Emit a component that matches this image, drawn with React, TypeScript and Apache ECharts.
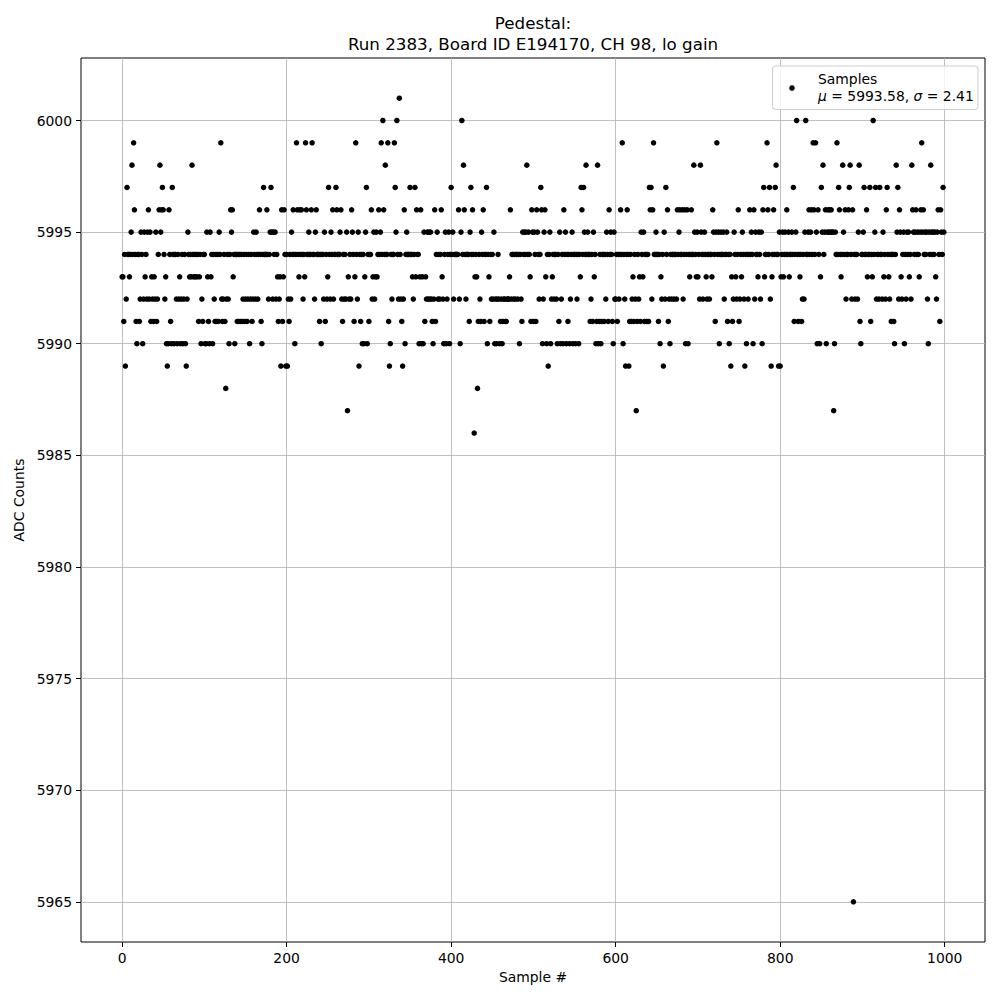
import React, { useEffect, useRef } from "react";
import * as echarts from "echarts";

// ADC samples, 100 per segment
const seg0 = [
  5993, 5993, 5991, 5994, 5989, 5992, 5997, 5994, 5994, 5993,
  5994, 5995, 5998, 5994, 5999, 5996, 5994, 5991, 5990, 5994,
  5994, 5991, 5992, 5995, 5994, 5990, 5992, 5995, 5993, 5994,
  5992, 5995, 5996, 5992, 5995, 5991, 5993, 5992, 5991, 5993,
  5992, 5995, 5991, 5992, 5994, 5996, 5998, 5995, 5996, 5997,
  5996, 5994, 5992, 5993, 5990, 5989, 5990, 5996, 5994, 5991,
  5990, 5997, 5994, 5990, 5994, 5994, 5992, 5990, 5994, 5992,
  5993, 5990, 5992, 5994, 5990, 5992, 5994, 5990, 5989, 5992,
  5995, 5994, 5993, 5994, 5993, 5998, 5994, 5993, 5994, 5993,
  5994, 5993, 5994, 5991, 5993, 5994, 5990, 5992, 5991, 5994,
];
const seg1 = [
  5994, 5990, 5990, 5995, 5993, 5991, 5990, 5995, 5993, 5994,
  5990, 5994, 5992, 5991, 5994, 5991, 5994, 5991, 5995, 5994,
  5999, 5992, 5991, 5992, 5994, 5991, 5988, 5992, 5994, 5992,
  5990, 5994, 5996, 5995, 5996, 5993, 5994, 5990, 5994, 5994,
  5991, 5994, 5991, 5994, 5991, 5994, 5991, 5992, 5994, 5991,
  5992, 5994, 5991, 5992, 5994, 5990, 5992, 5994, 5991, 5992,
  5995, 5994, 5992, 5995, 5994, 5992, 5994, 5996, 5994, 5991,
  5990, 5994, 5997, 5994, 5994, 5994, 5996, 5994, 5992, 5994,
  5995, 5997, 5995, 5992, 5995, 5994, 5995, 5992, 5994, 5993,
  5991, 5992, 5993, 5989, 5996, 5991, 5993, 5996, 5994, 5989,
];
const seg2 = [
  5994, 5989, 5992, 5991, 5994, 5992, 5995, 5994, 5996, 5994,
  5990, 5994, 5999, 5996, 5994, 5993, 5996, 5994, 5996, 5994,
  5992, 5994, 5993, 5999, 5996, 5994, 5994, 5995, 5994, 5994,
  5996, 5999, 5994, 5994, 5992, 5995, 5996, 5994, 5994, 5994,
  5991, 5994, 5990, 5994, 5994, 5992, 5995, 5991, 5994, 5992,
  5993, 5997, 5994, 5992, 5995, 5994, 5996, 5992, 5994, 5994,
  5997, 5996, 5994, 5994, 5994, 5995, 5996, 5992, 5991, 5994,
  5992, 5994, 5992, 5995, 5987, 5993, 5992, 5994, 5992, 5996,
  5995, 5994, 5991, 5993, 5999, 5994, 5992, 5995, 5989, 5994,
  5991, 5994, 5990, 5994, 5990, 5993, 5995, 5997, 5990, 5994,
];
const seg3 = [
  5991, 5994, 5994, 5996, 5992, 5993, 5995, 5992, 5993, 5995,
  5993, 5994, 5996, 5994, 5995, 5999, 5994, 6000, 5996, 5994,
  5998, 5994, 5994, 5999, 5991, 5989, 5990, 5994, 5992, 5994,
  5994, 5999, 5997, 5995, 6000, 5994, 5992, 6001, 5994, 5992,
  5991, 5989, 5992, 5996, 5990, 5994, 5995, 5994, 5994, 5994,
  5997, 5994, 5994, 5993, 5992, 5994, 5997, 5993, 5996, 5994,
  5994, 5990, 5993, 5996, 5990, 5993, 5990, 5995, 5991, 5993,
  5992, 5995, 5992, 5995, 5992, 5995, 5992, 5991, 5990, 5992,
  5996, 5991, 5994, 5995, 5992, 5994, 5992, 5994, 5996, 5993,
  5992, 5990, 5994, 5995, 5990, 5992, 5994, 5995, 5990, 5994,
];
const seg4 = [
  5997, 5994, 5995, 5992, 5994, 5994, 5994, 5994, 5994, 5996,
  5992, 5990, 5995, 6000, 5994, 5998, 5996, 5994, 5992, 5994,
  5994, 5994, 5991, 5995, 5997, 5994, 5996, 5994, 5986, 5993,
  5994, 5993, 5988, 5991, 5994, 5992, 5991, 5995, 5994, 5996,
  5991, 5994, 5994, 5997, 5990, 5994, 5993, 5991, 5994, 5992,
  5994, 5992, 5995, 5990, 5992, 5990, 5992, 5994, 5992, 5990,
  5991, 5992, 5990, 5991, 5992, 5992, 5991, 5991, 5992, 5992,
  5992, 5993, 5996, 5992, 5994, 5994, 5992, 5994, 5992, 5994,
  5994, 5992, 5994, 5990, 5994, 5992, 5991, 5995, 5994, 5995,
  5994, 5995, 5998, 5994, 5995, 5994, 5993, 5991, 5996, 5995,
];
const seg5 = [
  5991, 5995, 5994, 5991, 5996, 5995, 5994, 5992, 5994, 5997,
  5996, 5990, 5992, 5995, 5996, 5993, 5990, 5994, 5989, 5994,
  5995, 5990, 5992, 5993, 5994, 5992, 5994, 5994, 5992, 5990,
  5994, 5991, 5995, 5990, 5992, 5994, 5990, 5996, 5994, 5995,
  5990, 5994, 5991, 5994, 5990, 5992, 5994, 5995, 5990, 5994,
  5994, 5990, 5994, 5992, 5994, 5990, 5994, 5993, 5997, 5996,
  5994, 5997, 5995, 5994, 5998, 5994, 5995, 5994, 5994, 5991,
  5992, 5994, 5991, 5995, 5993, 5994, 5990, 5991, 5998, 5990,
  5991, 5994, 5990, 5991, 5994, 5994, 5991, 5994, 5992, 5995,
  5994, 5991, 5996, 5994, 5995, 5994, 5991, 5990, 5995, 5992,
];
const seg6 = [
  5992, 5994, 5991, 5994, 5992, 5994, 5996, 5994, 5999, 5990,
  5994, 5992, 5989, 5994, 5996, 5994, 5989, 5991, 5994, 5991,
  5992, 5993, 5991, 5994, 5992, 5987, 5991, 5994, 5992, 5993,
  5991, 5995, 5994, 5993, 5995, 5991, 5994, 5994, 5991, 5994,
  5991, 5997, 5996, 5997, 5992, 5996, 5999, 5994, 5994, 5995,
  5994, 5994, 5991, 5994, 5990, 5993, 5992, 5994, 5989, 5995,
  5992, 5997, 5994, 5996, 5991, 5992, 5990, 5994, 5992, 5994,
  5994, 5992, 5994, 5994, 5992, 5996, 5994, 5995, 5996, 5994,
  5994, 5996, 5992, 5994, 5996, 5990, 5994, 5996, 5990, 5994,
  5993, 5994, 5996, 5994, 5994, 5998, 5995, 5994, 5993, 5995,
];
const seg7 = [
  5993, 5994, 5992, 5998, 5995, 5994, 5992, 5994, 5995, 5994,
  5993, 5992, 5994, 5994, 5992, 5994, 5994, 5993, 5996, 5995,
  5994, 5991, 5995, 5999, 5994, 5995, 5990, 5994, 5995, 5994,
  5994, 5995, 5992, 5994, 5994, 5995, 5991, 5994, 5990, 5994,
  5989, 5993, 5991, 5992, 5995, 5994, 5993, 5992, 5994, 5996,
  5991, 5992, 5994, 5993, 5995, 5994, 5992, 5989, 5994, 5990,
  5994, 5992, 5994, 5996, 5994, 5995, 5994, 5990, 5996, 5992,
  5995, 5994, 5994, 5993, 5995, 5994, 5992, 5995, 5990, 5996,
  5997, 5993, 5994, 5994, 5999, 5996, 5994, 5997, 5992, 5989,
  5993, 5994, 5996, 5994, 5997, 5998, 5994, 5994, 5989, 5995,
];
const seg8 = [
  5989, 5993, 5994, 5995, 5993, 5994, 5995, 5994, 5996, 5994,
  5995, 5993, 5994, 5994, 5995, 5994, 5997, 5991, 5994, 5995,
  6000, 5994, 5991, 5994, 5993, 5994, 5991, 5992, 5994, 5992,
  5995, 6000, 5994, 5994, 5995, 5996, 5994, 5995, 5996, 5994,
  5999, 5996, 5994, 5999, 5995, 5990, 5996, 5994, 5990, 5993,
  5997, 5995, 5998, 5994, 5995, 5996, 5990, 5995, 5996, 5995,
  5996, 5995, 5996, 5995, 5995, 5987, 5990, 5995, 5994, 5999,
  5994, 5997, 5996, 5994, 5993, 5994, 5998, 5995, 5994, 5996,
  5992, 5994, 5994, 5996, 5997, 5998, 5994, 5992, 5996, 5965,
  5994, 5992, 5994, 5994, 5992, 5995, 5998, 5991, 5990, 5994,
];
const seg9 = [
  5994, 5995, 5997, 5994, 5994, 5996, 5993, 5994, 5994, 5997,
  5991, 5994, 5993, 6000, 5994, 5995, 5997, 5992, 5994, 5994,
  5992, 5997, 5994, 5994, 5992, 5995, 5993, 5994, 5992, 5996,
  5997, 5994, 5993, 5992, 5994, 5991, 5994, 5994, 5991, 5990,
  5994, 5998, 5995, 5997, 5992, 5996, 5995, 5993, 5992, 5994,
  5995, 5990, 5994, 5992, 5995, 5994, 5995, 5993, 5994, 5992,
  5998, 5996, 5995, 5994, 5995, 5996, 5994, 5995, 5994, 5993,
  5995, 5996, 5999, 5995, 5996, 5994, 5995, 5994, 5995, 5992,
  5990, 5995, 5994, 5998, 5995, 5994, 5995, 5994, 5995, 5993,
  5992, 5995, 5996, 5994, 5991, 5996, 5995, 5994, 5997, 5995,
];

const adcValues = [
  ...seg0, ...seg1, ...seg2, ...seg3, ...seg4,
  ...seg5, ...seg6, ...seg7, ...seg8, ...seg9,
];

const xTicks = [0, 200, 400, 600, 800, 1000];
const yTicks = [5965, 5970, 5975, 5980, 5985, 5990, 5995, 6000];
const titleLine1 = "Pedestal:";
const titleLine2 = "Run 2383, Board ID E194170, CH 98, lo gain";
const xName = "Sample #";
const yName = "ADC Counts";
const seriesName = "Samples";
const muText = "5993.58";
const sigmaText = "2.41";

const FONT = "'DejaVu Sans', sans-serif";

export default function App() {
  const ref = useRef<HTMLDivElement>(null);

  useEffect(() => {
    if (!ref.current) return;
    const chart = echarts.init(ref.current, null, { renderer: "svg" });
    const data = adcValues.map((v, i) => [i, v]);
    const labelStyle = { fontFamily: FONT, fontSize: 13.9, color: "#000" };
    const plain = (v: number) => String(v);

    chart.setOption({
      animation: false,
      grid: {
        left: 81,
        right: 15,
        top: 58,
        bottom: 58,
        show: true,
        borderColor: "#000",
        borderWidth: 1,
        backgroundColor: "transparent",
      },
      xAxis: {
        type: "value",
        min: -49.95,
        max: 1048.95,
        name: xName,
        nameLocation: "middle",
        nameGap: 28,
        nameTextStyle: labelStyle,
        axisLine: { show: false, onZero: false },
        axisTick: {
          show: true,
          inside: false,
          length: 5,
          customValues: xTicks,
          lineStyle: { color: "#000", width: 1 },
        },
        axisLabel: { ...labelStyle, margin: 9, customValues: xTicks, formatter: plain },
        splitLine: { show: false },
      },
      yAxis: {
        type: "value",
        min: 5963.2,
        max: 6002.8,
        name: yName,
        nameLocation: "middle",
        nameGap: 54,
        nameRotate: 90,
        nameTextStyle: labelStyle,
        axisLine: { show: false, onZero: false },
        axisTick: {
          show: true,
          inside: false,
          length: 5,
          customValues: yTicks,
          lineStyle: { color: "#000", width: 1 },
        },
        axisLabel: { ...labelStyle, margin: 9, customValues: yTicks, formatter: plain },
        splitLine: { show: false },
      },
      series: [
        {
          name: seriesName,
          type: "scatter",
          data,
          symbol: "circle",
          symbolSize: 5.5,
          itemStyle: { color: "#000", opacity: 1 },
          z: 3,
          silent: true,
          markLine: {
            silent: true,
            symbol: "none",
            z: 1,
            label: { show: false },
            lineStyle: { color: "#b0b0b0", width: 0.8, type: "solid", opacity: 1 },
            data: [
              ...xTicks.map((x) => ({ xAxis: x })),
              ...yTicks.map((y) => ({ yAxis: y })),
            ],
          },
        },
      ],
      graphic: [
        {
          type: "text",
          x: 533,
          y: 23,
          style: {
            text: titleLine1,
            fontFamily: FONT,
            fontSize: 16.7,
            fill: "#000",
            textAlign: "center",
            textVerticalAlign: "middle",
          },
        },
        {
          type: "text",
          x: 533,
          y: 44,
          style: {
            text: titleLine2,
            fontFamily: FONT,
            fontSize: 16.7,
            fill: "#000",
            textAlign: "center",
            textVerticalAlign: "middle",
          },
        },
        {
          type: "rect",
          z: 10,
          shape: { x: 772.5, y: 66, width: 205.5, height: 43.5, r: 3 },
          style: { fill: "rgba(255,255,255,0.8)", stroke: "#cccccc", lineWidth: 1 },
        },
        {
          type: "circle",
          z: 11,
          shape: { cx: 792, cy: 88, r: 2.75 },
          style: { fill: "#000" },
        },
        {
          type: "text",
          z: 11,
          x: 818,
          y: 79,
          style: {
            text: seriesName,
            fontFamily: FONT,
            fontSize: 13.9,
            fill: "#000",
            textAlign: "left",
            textVerticalAlign: "middle",
          },
        },
        {
          type: "text",
          z: 11,
          x: 818,
          y: 96,
          style: {
            text: `{i|μ} = ${muText}, {i|σ} = ${sigmaText}`,
            fontFamily: FONT,
            fontSize: 13.9,
            fill: "#000",
            textAlign: "left",
            textVerticalAlign: "middle",
            rich: {
              i: { fontFamily: FONT, fontSize: 13.9, fontStyle: "italic", fill: "#000" },
            },
          },
        },
      ],
    });

    return () => chart.dispose();
  }, []);

  return (
    <div
      ref={ref}
      style={{ position: "absolute", left: 0, top: 0, width: 1000, height: 1000 }}
    />
  );
}
